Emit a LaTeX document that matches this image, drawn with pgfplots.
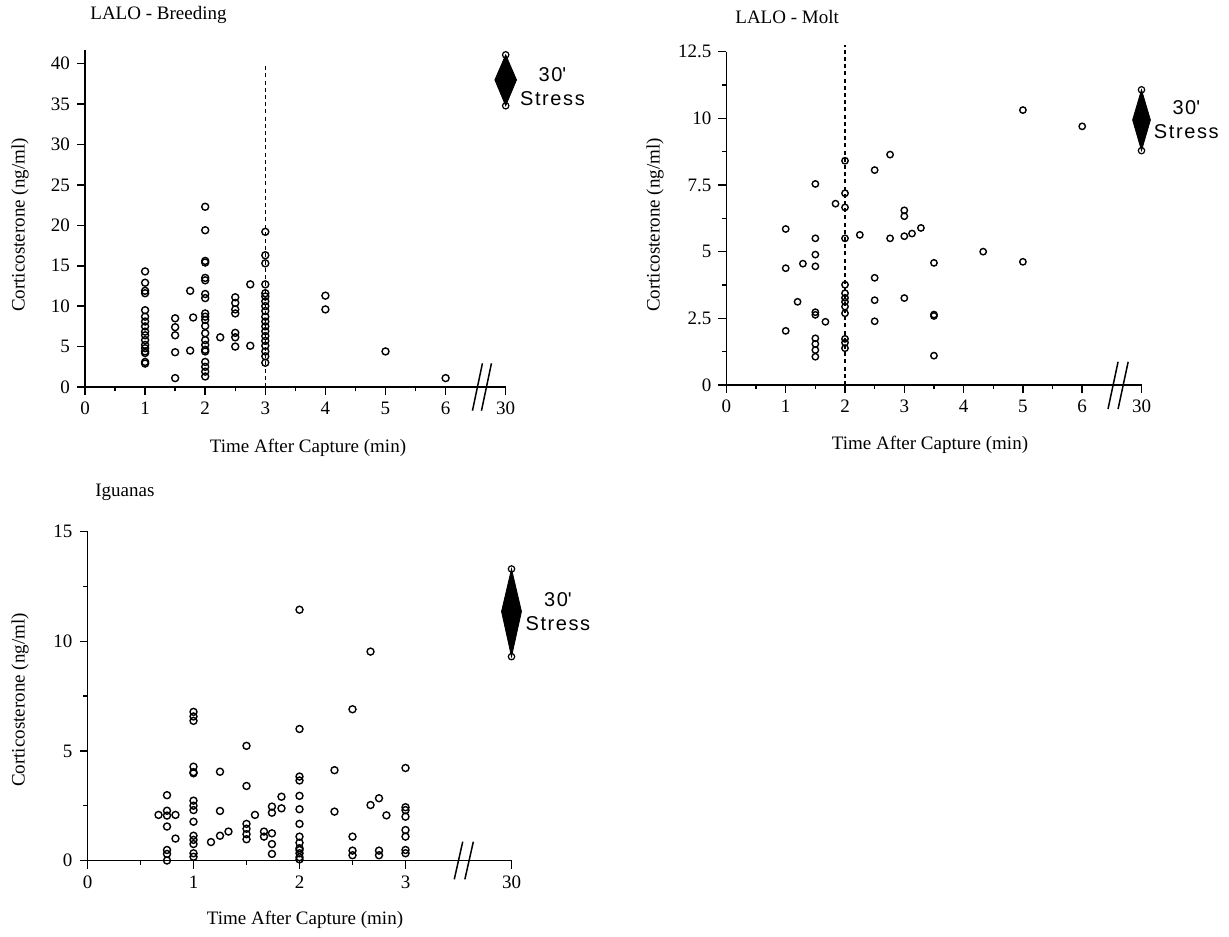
\documentclass[border=0pt]{standalone}
\usepackage{fontspec}
\setmainfont{Liberation Serif}
\newfontfamily\stressfont{Liberation Sans}[LetterSpace=8]
\usepackage{pgfplots}
\pgfplotsset{compat=1.18}

\newcommand{\lblfont}{\fontsize{9.5}{11}\selectfont}
\newcommand{\sfont}{\stressfont\fontsize{10}{12}\selectfont}

\pgfplotsset{
  panel/.style={
    scale only axis, anchor=south west,
    axis lines=left, axis line style={-, line width=0.75pt},
    enlargelimits=false, clip=false,
    tick align=outside, major tick length=4pt, minor tick length=2.2pt,
    every tick/.style={black, line width=0.75pt},
    ticklabel style={font=\lblfont},
    /pgf/number format/assume math mode=true,
  },
  pts/.style={only marks, mark=o, mark size=1.75pt, mark options={line width=0.7pt}},
  endpt/.style={only marks, mark=o, mark size=1.6pt, mark options={line width=0.6pt, fill=white}},
  cut/.style={black, line width=0.75pt, no marks},
  vline/.style={black, line width=0.65pt, dash pattern=on 2pt off 1.6pt, no marks},
}

\begin{document}
\begin{tikzpicture}
\path[use as bounding box] (0,0) rectangle (614.5pt,468pt);

% ---------- LALO - Breeding ----------
\begin{axis}[panel, at={(42.5pt,274.5pt)}, width=210.35pt, height=168.5pt,
  xmin=0, xmax=7, ymin=0, ymax=41.7,
  xtick={0,...,7}, xticklabels={0,1,2,3,4,5,6,30},
  minor xtick={0.5,1.5,2.5,3.5,4.5,5.5},
  ytick={0,5,...,40}]
\addplot[vline] coordinates {(3,0) (3,40)};
\addplot[pts] coordinates {
 (1,14.3) (1,12.9) (1,11.9) (1,11.6) (1,9.5) (1,8.7) (1,8.1) (1,7.5) (1,6.85)
 (1,6.4) (1,5.8) (1,5.2) (1,4.8) (1,4.4) (1,4.2) (1,3.1) (1,2.9)
 (1.5,8.5) (1.5,7.4) (1.5,6.4) (1.5,4.3) (1.5,1.1)
 (1.75,11.9) (1.75,4.5) (1.8,8.6)
 (2,22.3) (2,19.4) (2,15.6) (2,15.4) (2,13.5) (2,13.2) (2,11.5) (2,11.0) (2,9.1)
 (2,8.7) (2,8.3) (2,7.55) (2,6.65) (2,5.8) (2,5.2) (2,4.6) (2,4.4) (2,3.1)
 (2,2.5) (2,1.9) (2,1.3)
 (2.25,6.15)
 (2.5,11.1) (2.5,10.4) (2.5,9.6) (2.5,9.1) (2.5,6.7) (2.5,6.15) (2.5,5.0)
 (2.75,12.7) (2.75,5.1)
 (3,19.2) (3,16.3) (3,15.3) (3,12.7) (3,11.6) (3,11.2) (3,10.6) (3,10.0) (3,9.4)
 (3,8.7) (3,8.1) (3,7.5) (3,6.9) (3,6.3) (3,5.7) (3,5.1) (3,4.4) (3,3.8) (3,3.0)
 (4,11.3) (4,9.6) (5,4.4) (6,1.1)
};
\addplot[fill=black, draw=black, line width=0.4pt, no marks] coordinates {(7,41.1) (7.18,38) (7,34.8) (6.82,38)} -- cycle;
\addplot[endpt] coordinates {(7,41.1) (7,34.8)};
\addplot[cut] coordinates {(6.447,-2.93) (6.613,2.93)};
\addplot[cut] coordinates {(6.597,-2.93) (6.763,2.93)};
\node[anchor=west, align=center, font=\sfont, inner sep=1pt] at (axis cs:7.2,37.2) {30\textquotesingle\\Stress};
\end{axis}

% ---------- LALO - Molt ----------
\begin{axis}[panel, at={(363.2pt,275.5pt)}, width=207.55pt, height=166.65pt,
  xmin=0, xmax=7, ymin=0, ymax=12.5,
  xtick={0,...,7}, xticklabels={0,1,2,3,4,5,6,30},
  minor xtick={0.5,1.5,2.5,3.5,4.5,5.5},
  ytick={0,2.5,...,12.5}, minor ytick={1.25,3.75,6.25,8.75,11.25},
  yticklabel style={/pgf/number format/fixed}]
\addplot[vline] coordinates {(2,0) (2,12.75)};
\addplot[pts, mark size=1.6pt] coordinates {
 (1,5.85) (1,4.38) (1,2.03) (1.2,3.12) (1.29,4.55)
 (1.5,7.54) (1.5,5.5) (1.5,4.89) (1.5,4.45) (1.5,2.73) (1.5,2.63) (1.5,1.75)
 (1.5,1.54) (1.5,1.31) (1.5,1.06)
 (1.67,2.37) (1.84,6.8)
 (2,8.41) (2,7.19) (2,6.66) (2,5.5) (2,3.76) (2,3.44) (2,3.27) (2,3.12) (2,2.94)
 (2,2.69) (2,1.73) (2,1.59) (2,1.38)
 (2.25,5.63)
 (2.5,8.06) (2.5,4.02) (2.5,3.18) (2.5,2.39)
 (2.76,8.64) (2.76,5.5)
 (3,6.55) (3,6.33) (3,5.58) (3,3.26) (3.13,5.68) (3.28,5.89)
 (3.5,4.58) (3.5,2.64) (3.5,2.59) (3.5,1.1)
 (4.33,5.0) (5,10.31) (5,4.62) (6,9.7)
};
\addplot[fill=black, draw=black, line width=0.4pt, no marks] coordinates {(7,11.07) (7.15,9.94) (7,8.79) (6.85,9.94)} -- cycle;
\addplot[endpt] coordinates {(7,11.07) (7,8.79)};
\addplot[cut] coordinates {(6.435,-0.9) (6.605,0.87)};
\addplot[cut] coordinates {(6.605,-0.9) (6.775,0.87)};
\node[anchor=west, align=center, font=\sfont, inner sep=1pt] at (axis cs:7.17,9.94) {30\textquotesingle\\Stress};
\end{axis}

% ---------- Iguanas ----------
\begin{axis}[panel, at={(43.75pt,37.75pt)}, width=212pt, height=164.4pt,
  xmin=0, xmax=4, ymin=0, ymax=15,
  xtick={0,...,4}, xticklabels={0,1,2,3,30},
  minor xtick={0.5,1.5,2.5},
  ytick={0,5,10,15}, minor ytick={2.5,7.5,12.5}]
\addplot[pts] coordinates {
 (0.67,2.08)
 (0.75,2.98) (0.75,2.27) (0.75,2.05) (0.75,1.55) (0.75,0.48) (0.75,0.30) (0.75,0.0)
 (0.83,2.08) (0.83,1.0)
 (1,6.78) (1,6.57) (1,6.37) (1,4.28) (1,4.03) (1,3.98) (1,2.73) (1,2.5) (1,2.3)
 (1,1.77) (1,1.13) (1,0.94) (1,0.75) (1,0.33) (1,0.17)
 (1.165,0.84)
 (1.25,4.05) (1.25,2.26) (1.25,1.13) (1.33,1.32)
 (1.5,5.23) (1.5,3.4) (1.5,1.67) (1.5,1.45) (1.5,1.2) (1.5,0.97)
 (1.58,2.08) (1.665,1.32) (1.665,1.09)
 (1.74,2.46) (1.74,2.18) (1.74,1.24) (1.74,0.75) (1.74,0.30)
 (1.83,2.91) (1.83,2.38)
 (2,11.44) (2,6.0) (2,3.83) (2,3.65) (2,2.95) (2,2.34) (2,1.67) (2,1.09) (2,0.81)
 (2,0.56) (2,0.48) (2,0.33) (2,0.15) (2,0.05)
 (2.33,4.12) (2.33,2.23)
 (2.5,6.9) (2.5,1.09) (2.5,0.45) (2.5,0.24)
 (2.67,9.53) (2.67,2.53)
 (2.75,2.84) (2.75,0.45) (2.75,0.24) (2.82,2.06)
 (3,4.22) (3,2.43) (3,2.3) (3,2.0) (3,1.39) (3,1.09) (3,0.48) (3,0.33)
};
\addplot[fill=black, draw=black, line width=0.4pt, no marks] coordinates {(4,13.3) (4.094,11.36) (4,9.3) (3.906,11.36)} -- cycle;
\addplot[endpt] coordinates {(4,13.3) (4,9.3)};
\addplot[cut] coordinates {(3.46,-0.86) (3.54,0.86)};
\addplot[cut] coordinates {(3.56,-0.86) (3.64,0.86)};
\node[anchor=west, align=center, font=\sfont, inner sep=1pt] at (axis cs:4.11,11.36) {30\textquotesingle\\Stress};
\end{axis}

% ---------- titles and axis labels ----------
\node[anchor=west, font=\lblfont, inner sep=0pt] at (45pt,460.5pt) {LALO - Breeding};
\node[anchor=west, font=\lblfont, inner sep=0pt] at (367.5pt,459.5pt) {LALO - Molt};
\node[anchor=west, font=\lblfont, inner sep=0pt] at (47.5pt,222pt) {Iguanas};
\node[rotate=90, font=\lblfont, inner sep=0pt] at (10pt,355.5pt) {Corticosterone (ng/ml)};
\node[rotate=90, font=\lblfont, inner sep=0pt] at (327.5pt,355.5pt) {Corticosterone (ng/ml)};
\node[rotate=90, font=\lblfont, inner sep=0pt] at (10pt,118pt) {Corticosterone (ng/ml)};
\node[font=\lblfont, inner sep=0pt] at (154pt,244pt) {Time After Capture (min)};
\node[font=\lblfont, inner sep=0pt] at (465pt,245.5pt) {Time After Capture (min)};
\node[font=\lblfont, inner sep=0pt] at (152.5pt,8pt) {Time After Capture (min)};
\end{tikzpicture}
\end{document}
